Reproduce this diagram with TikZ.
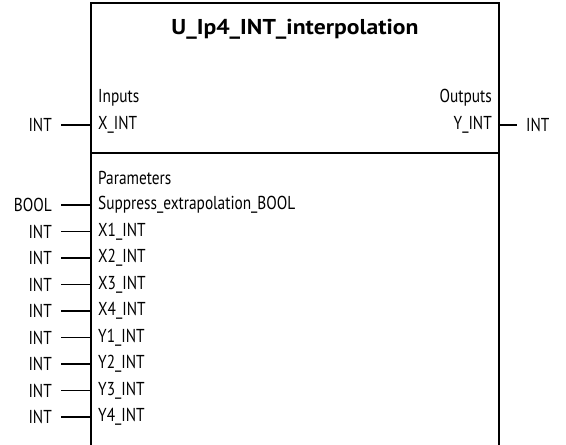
\documentclass[tikz,border=0pt]{standalone}
\usepackage{fontspec}
\setmainfont[FakeStretch=0.82]{PT Sans}
\newfontfamily\titlefont[FakeStretch=1.1]{PT Sans}
\begin{document}
\begin{tikzpicture}[x=1pt,y=-1pt,
  lbl/.style={inner sep=0pt,font=\fontsize{18.7}{22}\selectfont},
  ext/.style={lbl,anchor=east},
  int/.style={lbl,anchor=west},
  pin/.style={line width=1.4pt},
  frame/.style={line width=2pt}]
\useasboundingbox (0,0) rectangle (566,445);
\coordinate (bl) at (91,446);
\coordinate (tl) at (91,3);
\coordinate (tr) at (499,3);
\coordinate (br) at (499,446);
\coordinate (dl) at (91,152.5);
\coordinate (dr) at (499,152.5);
\draw[frame] (bl) -- (tl) -- (tr) -- (br);
\draw[frame] (dl) -- (dr);
\node[inner sep=0pt,font=\titlefont\fontsize{21.5}{24}\selectfont\bfseries] (title) at (295,29.5) {U\_Ip4\_INT\_interpolation};
\node[int] (inputs) at (98,98) {Inputs};
\node[lbl,anchor=east] (outputs) at (492,98) {Outputs};
\node[lbl,anchor=east] (yint) at (492,125) {Y\_INT};
\node[lbl,anchor=west] (yout) at (526,125) {INT};
\draw[pin] (yout.west -| tr) -- ([xshift=-9pt]yout.west);
\node[int] (params) at (98,178) {Parameters};
\foreach \n/\y/\t/\e in {xint/125/X\_INT/INT, sup/205/Suppress\_extrapolation\_BOOL/BOOL,
  xa/231.5/X1\_INT/INT, xb/258/X2\_INT/INT, xc/284.5/X3\_INT/INT, xd/311/X4\_INT/INT,
  ya/337.5/Y1\_INT/INT, yb/364/Y2\_INT/INT, yc/390.5/Y3\_INT/INT, yd/417/Y4\_INT/INT}{
  \node[int] (\n) at (98,\y) {\t};
  \node[ext] (\n e) at (52,\y) {\e};
  \draw[pin] ([xshift=9pt]\n e.east) -- (\n e.east -| tl);
}
\end{tikzpicture}
\end{document}
